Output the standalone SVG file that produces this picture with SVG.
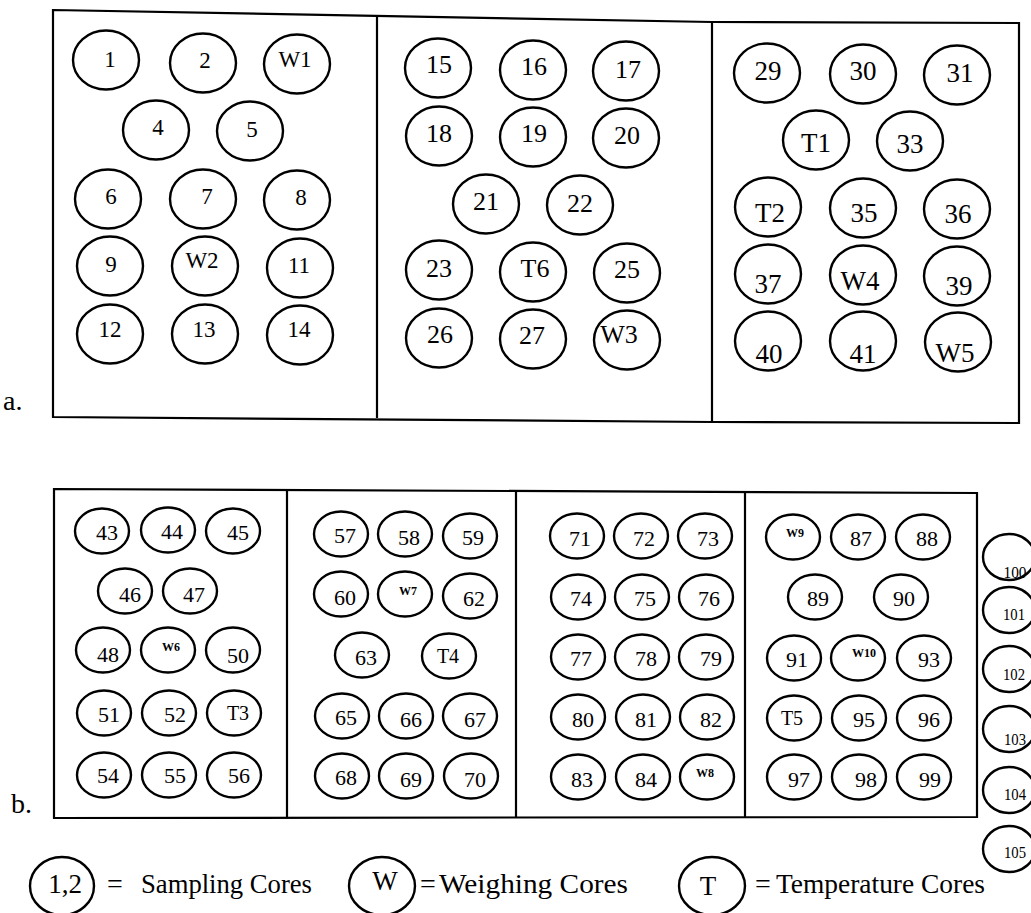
<svg xmlns="http://www.w3.org/2000/svg" width="1031" height="913" viewBox="0 0 1031 913">
<style>
.bg{fill:#fff}
.box{fill:none;stroke:#000;stroke-width:2.2}
.c{fill:#fff;stroke:#000;stroke-width:2.4}
text{font-family:"Liberation Serif","Times New Roman",serif;fill:#000;text-anchor:middle}
.f23{font-size:23px}
.f26{font-size:26px}
.f27{font-size:27px}
.f22{font-size:22px}
.f20{font-size:20px}
.fw{font-size:12px;font-weight:bold}
.fr{font-size:16px}
.lab{font-size:28px;text-anchor:start}
.leg{font-size:28px;text-anchor:start}
</style>
<rect class="bg" x="0" y="0" width="1031" height="913"/>
<g id="frames">
<polygon class="box" points="53,10 712,22 1019,23 1019,423 712,422 53,417"/>
<line class="box" x1="377" y1="15" x2="377" y2="418"/>
<line class="box" x1="712" y1="22" x2="712" y2="422"/>
<polygon class="box" points="54,489 977,493 977,817 54,818"/>
<line class="box" x1="287" y1="491" x2="287" y2="818"/>
<line class="box" x1="516" y1="492" x2="516" y2="818"/>
<line class="box" x1="745" y1="493" x2="745" y2="817"/>
</g>
<text class="lab" x="3" y="410">a.</text>
<text class="lab" x="11" y="813">b.</text>
<g id="connectors"></g>
<g id="nodes-a">
<g id="n1"><ellipse class="c" cx="106" cy="60" rx="33" ry="29.5"/><text class="f23" x="110" y="67">1</text></g>
<g id="n2"><ellipse class="c" cx="203" cy="63" rx="33" ry="29.5"/><text class="f23" x="205" y="68">2</text></g>
<g id="nW1"><ellipse class="c" cx="297" cy="64" rx="33" ry="29.5"/><text class="f23" x="295" y="67">W1</text></g>
<g id="n4"><ellipse class="c" cx="156" cy="130" rx="33" ry="29.5"/><text class="f23" x="158" y="135">4</text></g>
<g id="n5"><ellipse class="c" cx="250" cy="131" rx="33" ry="29.5"/><text class="f23" x="252" y="137">5</text></g>
<g id="n6"><ellipse class="c" cx="108" cy="199" rx="33" ry="29.5"/><text class="f23" x="111" y="204">6</text></g>
<g id="n7"><ellipse class="c" cx="203" cy="199" rx="33" ry="29.5"/><text class="f23" x="207" y="204">7</text></g>
<g id="n8"><ellipse class="c" cx="297" cy="200" rx="33" ry="29.5"/><text class="f23" x="301" y="205">8</text></g>
<g id="n9"><ellipse class="c" cx="110" cy="266" rx="33" ry="29.5"/><text class="f23" x="111" y="272">9</text></g>
<g id="nW2"><ellipse class="c" cx="205" cy="266" rx="33" ry="29.5"/><text class="f23" x="202" y="268">W2</text></g>
<g id="n11"><ellipse class="c" cx="300" cy="268" rx="33" ry="29.5"/><text class="f23" x="299" y="273">11</text></g>
<g id="n12"><ellipse class="c" cx="110" cy="334" rx="33" ry="29.5"/><text class="f23" x="110" y="337">12</text></g>
<g id="n13"><ellipse class="c" cx="205" cy="334" rx="33" ry="29.5"/><text class="f23" x="204" y="337">13</text></g>
<g id="n14"><ellipse class="c" cx="300" cy="335" rx="33" ry="29.5"/><text class="f23" x="299" y="337">14</text></g>

<g id="n15"><ellipse class="c" cx="438" cy="68" rx="33" ry="29.5"/><text class="f26" x="439" y="73">15</text></g>
<g id="n16"><ellipse class="c" cx="533" cy="70" rx="33" ry="29.5"/><text class="f26" x="534" y="75">16</text></g>
<g id="n17"><ellipse class="c" cx="626" cy="71" rx="33" ry="29.5"/><text class="f26" x="628" y="78">17</text></g>
<g id="n18"><ellipse class="c" cx="439" cy="136" rx="33" ry="29.5"/><text class="f26" x="439" y="142">18</text></g>
<g id="n19"><ellipse class="c" cx="533" cy="137" rx="33" ry="29.5"/><text class="f26" x="534" y="142">19</text></g>
<g id="n20"><ellipse class="c" cx="626" cy="138" rx="33" ry="29.5"/><text class="f26" x="627" y="144">20</text></g>
<g id="n21"><ellipse class="c" cx="486" cy="204" rx="33" ry="29.5"/><text class="f26" x="486" y="210">21</text></g>
<g id="n22"><ellipse class="c" cx="580" cy="205" rx="33" ry="29.5"/><text class="f26" x="580" y="212">22</text></g>
<g id="n23"><ellipse class="c" cx="439" cy="270" rx="33" ry="29.5"/><text class="f26" x="439" y="277">23</text></g>
<g id="nT6"><ellipse class="c" cx="533" cy="272" rx="33" ry="29.5"/><text class="f26" x="535" y="277">T6</text></g>
<g id="n25"><ellipse class="c" cx="627" cy="273" rx="33" ry="29.5"/><text class="f26" x="627" y="278">25</text></g>
<g id="n26"><ellipse class="c" cx="439" cy="338" rx="33" ry="29.5"/><text class="f26" x="440" y="343">26</text></g>
<g id="n27"><ellipse class="c" cx="533" cy="339" rx="33" ry="29.5"/><text class="f26" x="532" y="344">27</text></g>
<g id="nW3"><ellipse class="c" cx="627" cy="340" rx="33" ry="29.5"/><text class="f26" x="619" y="343">W3</text></g>

<g id="n29"><ellipse class="c" cx="767" cy="73" rx="33" ry="29.5"/><text class="f27" x="768" y="80">29</text></g>
<g id="n30"><ellipse class="c" cx="863" cy="74" rx="33" ry="29.5"/><text class="f27" x="863" y="80">30</text></g>
<g id="n31"><ellipse class="c" cx="957" cy="75" rx="33" ry="29.5"/><text class="f27" x="960" y="82">31</text></g>
<g id="nT1"><ellipse class="c" cx="816" cy="140" rx="33" ry="29.5"/><text class="f27" x="816" y="152">T1</text></g>
<g id="n33"><ellipse class="c" cx="910" cy="141" rx="33" ry="29.5"/><text class="f27" x="910" y="153">33</text></g>
<g id="nT2"><ellipse class="c" cx="768" cy="207" rx="33" ry="29.5"/><text class="f27" x="770" y="222">T2</text></g>
<g id="n35"><ellipse class="c" cx="863" cy="208" rx="33" ry="29.5"/><text class="f27" x="864" y="222">35</text></g>
<g id="n36"><ellipse class="c" cx="957" cy="209" rx="33" ry="29.5"/><text class="f27" x="958" y="223">36</text></g>
<g id="n37"><ellipse class="c" cx="768" cy="274" rx="33" ry="29.5"/><text class="f27" x="768" y="293">37</text></g>
<g id="nW4"><ellipse class="c" cx="863" cy="275" rx="33" ry="29.5"/><text class="f27" x="860" y="290">W4</text></g>
<g id="n39"><ellipse class="c" cx="957" cy="276" rx="33" ry="29.5"/><text class="f27" x="959" y="295">39</text></g>
<g id="n40"><ellipse class="c" cx="768" cy="341" rx="33" ry="29.5"/><text class="f27" x="769" y="363">40</text></g>
<g id="n41"><ellipse class="c" cx="863" cy="341" rx="33" ry="29.5"/><text class="f27" x="863" y="363">41</text></g>
<g id="nW5"><ellipse class="c" cx="958" cy="342" rx="33" ry="29.5"/><text class="f27" x="955" y="362">W5</text></g>
</g>

<g id="nodes-b">
<g id="n43"><ellipse class="c" cx="102" cy="531" rx="27" ry="22.5"/><text class="f22" x="107" y="540">43</text></g>
<g id="n44"><ellipse class="c" cx="168" cy="530" rx="27" ry="22.5"/><text class="f22" x="172" y="539">44</text></g>
<g id="n45"><ellipse class="c" cx="233" cy="531" rx="27" ry="22.5"/><text class="f22" x="238" y="540">45</text></g>
<g id="n46"><ellipse class="c" cx="125" cy="591" rx="27" ry="22.5"/><text class="f22" x="130" y="602">46</text></g>
<g id="n47"><ellipse class="c" cx="190" cy="591" rx="27" ry="22.5"/><text class="f22" x="194" y="602">47</text></g>
<g id="n48"><ellipse class="c" cx="103" cy="650" rx="27" ry="22.5"/><text class="f22" x="108" y="662">48</text></g>
<g id="nW6"><ellipse class="c" cx="168" cy="650" rx="27" ry="22.5"/><text class="fw" x="171" y="651">W6</text></g>
<g id="n50"><ellipse class="c" cx="233" cy="650" rx="27" ry="22.5"/><text class="f22" x="238" y="663">50</text></g>
<g id="n51"><ellipse class="c" cx="104" cy="713" rx="27" ry="22.5"/><text class="f22" x="109" y="722">51</text></g>
<g id="n52"><ellipse class="c" cx="169" cy="713" rx="27" ry="22.5"/><text class="f22" x="175" y="722">52</text></g>
<g id="nT3"><ellipse class="c" cx="234" cy="713" rx="27" ry="22.5"/><text class="f20" x="238" y="720">T3</text></g>
<g id="n54"><ellipse class="c" cx="104" cy="775" rx="27" ry="22.5"/><text class="f22" x="108" y="783">54</text></g>
<g id="n55"><ellipse class="c" cx="169" cy="775" rx="27" ry="22.5"/><text class="f22" x="175" y="783">55</text></g>
<g id="n56"><ellipse class="c" cx="234" cy="775" rx="27" ry="22.5"/><text class="f22" x="239" y="783">56</text></g>

<g id="n57"><ellipse class="c" cx="341" cy="534" rx="27" ry="22.5"/><text class="f22" x="345" y="543">57</text></g>
<g id="n58"><ellipse class="c" cx="405" cy="534" rx="27" ry="22.5"/><text class="f22" x="409" y="545">58</text></g>
<g id="n59"><ellipse class="c" cx="470" cy="536" rx="27" ry="22.5"/><text class="f22" x="473" y="545">59</text></g>
<g id="n60"><ellipse class="c" cx="341" cy="594" rx="27" ry="22.5"/><text class="f22" x="345" y="605">60</text></g>
<g id="nW7"><ellipse class="c" cx="405" cy="594" rx="27" ry="22.5"/><text class="fw" x="408" y="595">W7</text></g>
<g id="n62"><ellipse class="c" cx="470" cy="596" rx="27" ry="22.5"/><text class="f22" x="474" y="606">62</text></g>
<g id="n63"><ellipse class="c" cx="362" cy="655" rx="27" ry="22.5"/><text class="f22" x="366" y="665">63</text></g>
<g id="nT4"><ellipse class="c" cx="449" cy="656" rx="27" ry="22.5"/><text class="f20" x="448" y="663">T4</text></g>
<g id="n65"><ellipse class="c" cx="342" cy="716" rx="27" ry="22.5"/><text class="f22" x="346" y="725">65</text></g>
<g id="n66"><ellipse class="c" cx="406" cy="716" rx="27" ry="22.5"/><text class="f22" x="411" y="727">66</text></g>
<g id="n67"><ellipse class="c" cx="470" cy="716" rx="27" ry="22.5"/><text class="f22" x="475" y="727">67</text></g>
<g id="n68"><ellipse class="c" cx="342" cy="776" rx="27" ry="22.5"/><text class="f22" x="346" y="785">68</text></g>
<g id="n69"><ellipse class="c" cx="406" cy="776" rx="27" ry="22.5"/><text class="f22" x="411" y="787">69</text></g>
<g id="n70"><ellipse class="c" cx="471" cy="776" rx="27" ry="22.5"/><text class="f22" x="475" y="787">70</text></g>

<g id="n71"><ellipse class="c" cx="577" cy="536" rx="27" ry="22.5"/><text class="f22" x="580" y="546">71</text></g>
<g id="n72"><ellipse class="c" cx="641" cy="536" rx="27" ry="22.5"/><text class="f22" x="644" y="546">72</text></g>
<g id="n73"><ellipse class="c" cx="705" cy="536" rx="27" ry="22.5"/><text class="f22" x="708" y="546">73</text></g>
<g id="n74"><ellipse class="c" cx="578" cy="597" rx="27" ry="22.5"/><text class="f22" x="581" y="606">74</text></g>
<g id="n75"><ellipse class="c" cx="642" cy="597" rx="27" ry="22.5"/><text class="f22" x="645" y="606">75</text></g>
<g id="n76"><ellipse class="c" cx="706" cy="597" rx="27" ry="22.5"/><text class="f22" x="709" y="606">76</text></g>
<g id="n77"><ellipse class="c" cx="578" cy="657" rx="27" ry="22.5"/><text class="f22" x="581" y="666">77</text></g>
<g id="n78"><ellipse class="c" cx="642" cy="657" rx="27" ry="22.5"/><text class="f22" x="646" y="666">78</text></g>
<g id="n79"><ellipse class="c" cx="706" cy="657" rx="27" ry="22.5"/><text class="f22" x="711" y="666">79</text></g>
<g id="n80"><ellipse class="c" cx="578" cy="717" rx="27" ry="22.5"/><text class="f22" x="583" y="727">80</text></g>
<g id="n81"><ellipse class="c" cx="643" cy="717" rx="27" ry="22.5"/><text class="f22" x="646" y="727">81</text></g>
<g id="n82"><ellipse class="c" cx="707" cy="717" rx="27" ry="22.5"/><text class="f22" x="711" y="727">82</text></g>
<g id="n83"><ellipse class="c" cx="578" cy="777" rx="27" ry="22.5"/><text class="f22" x="582" y="787">83</text></g>
<g id="n84"><ellipse class="c" cx="643" cy="777" rx="27" ry="22.5"/><text class="f22" x="646" y="787">84</text></g>
<g id="nW8"><ellipse class="c" cx="707" cy="777" rx="27" ry="22.5"/><text class="fw" x="705" y="777">W8</text></g>

<g id="nW9"><ellipse class="c" cx="793" cy="537" rx="27" ry="22.5"/><text class="fw" x="795" y="537">W9</text></g>
<g id="n87"><ellipse class="c" cx="858" cy="537" rx="27" ry="22.5"/><text class="f22" x="861" y="546">87</text></g>
<g id="n88"><ellipse class="c" cx="923" cy="537" rx="27" ry="22.5"/><text class="f22" x="927" y="546">88</text></g>
<g id="n89"><ellipse class="c" cx="815" cy="597" rx="27" ry="22.5"/><text class="f22" x="818" y="606">89</text></g>
<g id="n90"><ellipse class="c" cx="901" cy="597" rx="27" ry="22.5"/><text class="f22" x="904" y="606">90</text></g>
<g id="n91"><ellipse class="c" cx="794" cy="658" rx="27" ry="22.5"/><text class="f22" x="797" y="667">91</text></g>
<g id="nW10"><ellipse class="c" cx="858" cy="658" rx="27" ry="22.5"/><text class="fw" x="864" y="657">W10</text></g>
<g id="n93"><ellipse class="c" cx="924" cy="658" rx="27" ry="22.5"/><text class="f22" x="929" y="667">93</text></g>
<g id="nT5"><ellipse class="c" cx="794" cy="718" rx="27" ry="22.5"/><text class="f20" x="792" y="725">T5</text></g>
<g id="n95"><ellipse class="c" cx="859" cy="718" rx="27" ry="22.5"/><text class="f22" x="864" y="727">95</text></g>
<g id="n96"><ellipse class="c" cx="924" cy="718" rx="27" ry="22.5"/><text class="f22" x="929" y="727">96</text></g>
<g id="n97"><ellipse class="c" cx="794" cy="777" rx="27" ry="22.5"/><text class="f22" x="799" y="787">97</text></g>
<g id="n98"><ellipse class="c" cx="859" cy="777" rx="27" ry="22.5"/><text class="f22" x="866" y="787">98</text></g>
<g id="n99"><ellipse class="c" cx="924" cy="777" rx="27" ry="22.5"/><text class="f22" x="930" y="787">99</text></g>
</g>

<g id="nodes-extra">
<g id="n100"><ellipse class="c" cx="1009" cy="557" rx="26" ry="23"/><text class="fr" x="1015" y="578" textLength="23" lengthAdjust="spacingAndGlyphs">100</text></g>
<g id="n101"><ellipse class="c" cx="1009" cy="610" rx="26" ry="23"/><text class="fr" x="1014" y="620" textLength="22" lengthAdjust="spacingAndGlyphs">101</text></g>
<g id="n102"><ellipse class="c" cx="1009" cy="669" rx="26" ry="23"/><text class="fr" x="1014" y="680" textLength="22" lengthAdjust="spacingAndGlyphs">102</text></g>
<g id="n103"><ellipse class="c" cx="1009" cy="729" rx="26" ry="23"/><text class="fr" x="1015" y="745" textLength="22" lengthAdjust="spacingAndGlyphs">103</text></g>
<g id="n104"><ellipse class="c" cx="1009" cy="790" rx="26" ry="23"/><text class="fr" x="1015" y="800" textLength="22" lengthAdjust="spacingAndGlyphs">104</text></g>
<g id="n105"><ellipse class="c" cx="1009" cy="849" rx="26" ry="23"/><text class="fr" x="1015" y="858" textLength="22" lengthAdjust="spacingAndGlyphs">105</text></g>
</g>

<g id="legend">
<g id="leg-sampling"><ellipse class="c" cx="62" cy="886" rx="32" ry="29"/><text class="f27" x="65" y="893">1,2</text>
<text class="leg"><tspan x="107" y="893">=</tspan><tspan x="141" y="893" textLength="171" lengthAdjust="spacingAndGlyphs">Sampling Cores</tspan></text></g>
<g id="leg-weighing"><ellipse class="c" cx="382" cy="886" rx="33" ry="29"/><text class="f27" x="385" y="890">W</text>
<text class="leg"><tspan x="420" y="893">=</tspan><tspan x="439" y="893" textLength="189" lengthAdjust="spacingAndGlyphs">Weighing Cores</tspan></text></g>
<g id="leg-temperature"><ellipse class="c" cx="712" cy="886" rx="33" ry="29"/><text class="f27" x="708" y="895">T</text>
<text class="leg"><tspan x="755" y="893">=</tspan><tspan x="776" y="893" textLength="209" lengthAdjust="spacingAndGlyphs">Temperature Cores</tspan></text></g>
</g>
</svg>
